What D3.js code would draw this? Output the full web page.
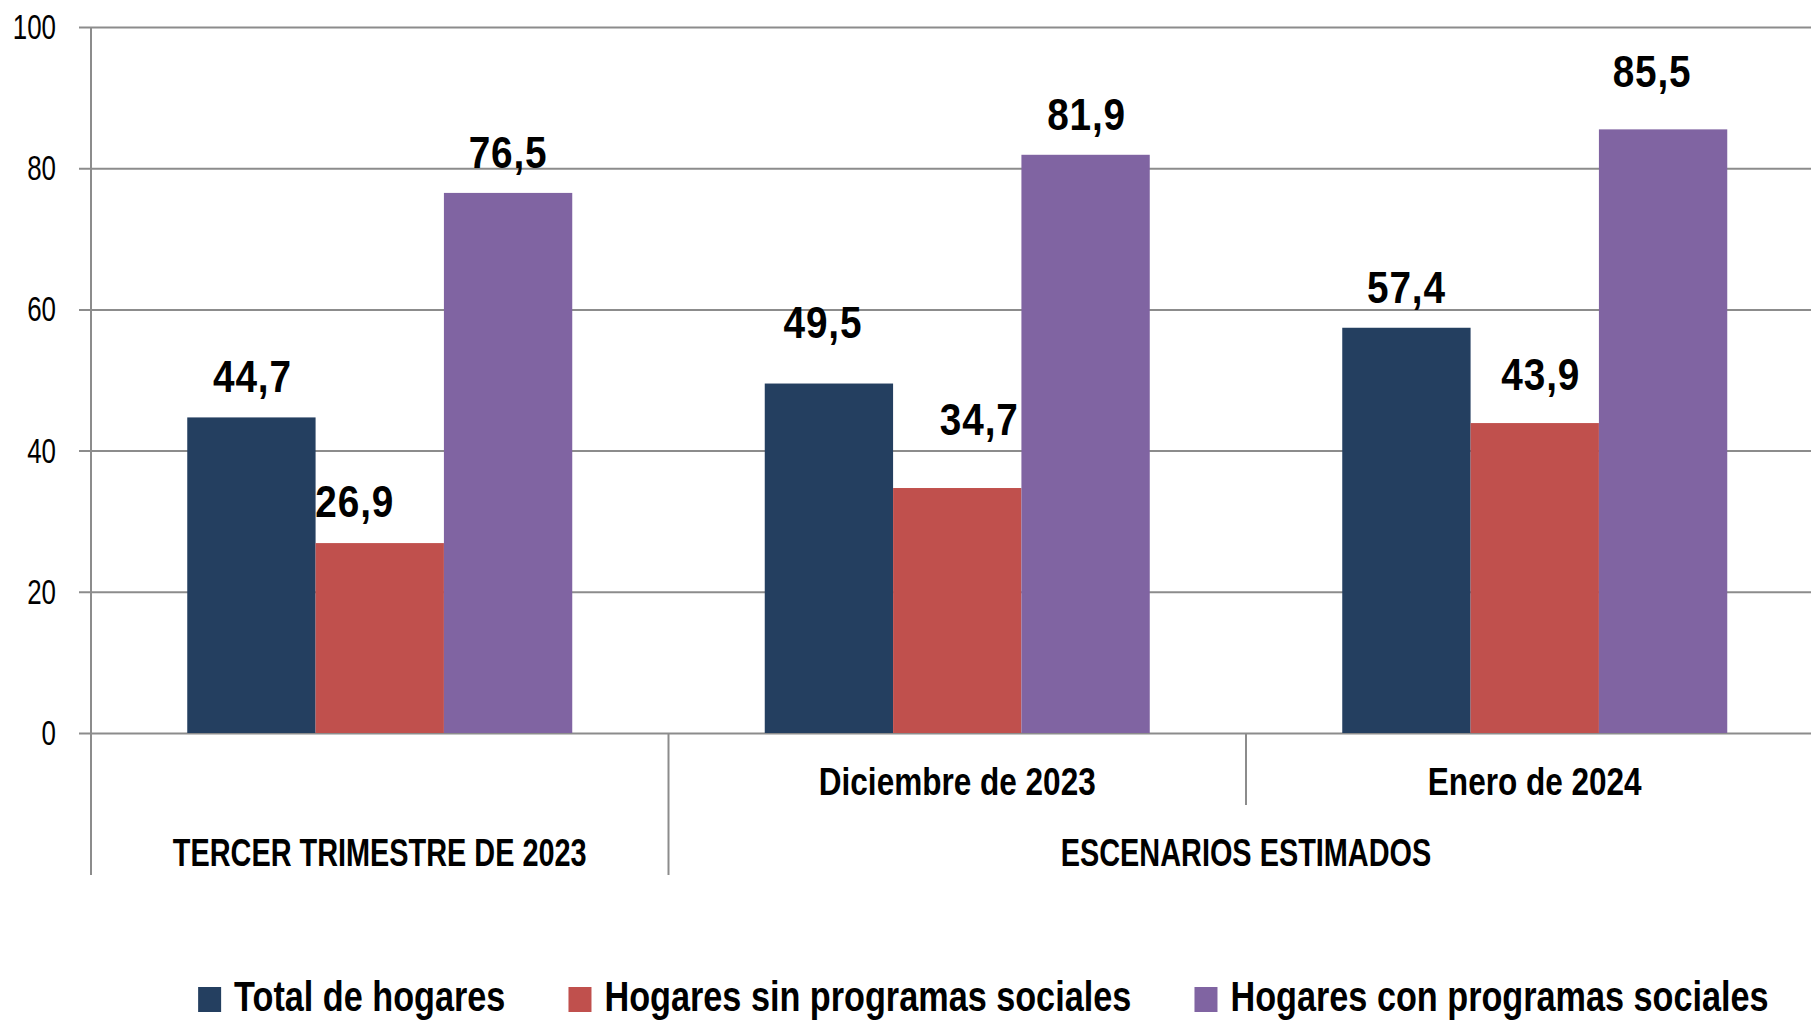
<!DOCTYPE html>
<html>
<head>
<meta charset="utf-8">
<script src="https://cdn.jsdelivr.net/npm/d3@7"></script>
<style>
  body { margin: 0; background: #fff; }
  text { font-family: "Liberation Sans", Arial, sans-serif; fill: #000; }
</style>
</head>
<body>
<script>
// data
const categories = ["TERCER TRIMESTRE DE 2023", "Diciembre de 2023", "Enero de 2024"];
const seriesNames = ["Total de hogares", "Hogares sin programas sociales", "Hogares con programas sociales"];
const totalHogares = [44.7, 49.5, 57.4];
const sinProgramas = [26.9, 34.7, 43.9];
const conProgramas = [76.5, 81.9, 85.5];
const yTicks = [0, 20, 40, 60, 80, 100];
const groupLabel = "ESCENARIOS ESTIMADOS";

const colors = ["#243f60", "#c0504d", "#8064a2"];

// label nudges (px) as the original places them
const labelDx = [[1, -6, 0], [-25, 22, 6], [0, 1, -11]];
const labelDy = [[25, 46, 25], [26, 53, 33], [25, 25, 42]];

const W = 1811, H = 1021;
const plotLeft = 91, plotTop = 27, zeroY = 733;

// no condensed font available, so squeeze text horizontally
function squeeze(sel, sx) {
  sel.attr("transform", function() {
    const x = +this.getAttribute("x") || 0;
    const y = +this.getAttribute("y") || 0;
    this.setAttribute("x", 0);
    this.setAttribute("y", 0);
    return "translate(" + x + "," + y + ") scale(" + sx + ",1)";
  });
}

const svg = d3.select("body").append("svg")
    .attr("width", W)
    .attr("height", H);

const values = [totalHogares, sinProgramas, conProgramas];
const data = categories.map((c, i) => ({
  cat: c,
  vals: seriesNames.map((s, j) => ({ s: s, j: j, i: i, v: values[j][i] }))
}));

// scales
const x0 = d3.scaleBand()
  .domain(categories)
  .range([plotLeft, plotLeft + 3 * 577.5])
  .padding(0);

const bw = x0.bandwidth();
const x1 = d3.scaleBand()
  .domain(seriesNames)
  .range([bw / 6, bw * 5 / 6])
  .padding(0);

const y = d3.scaleLinear()
  .domain([0, 100])
  .range([zeroY, plotTop]);

// gridlines + y labels
const yAxis = svg.append("g")
  .attr("transform", "translate(79,0)")
  .call(d3.axisLeft(y).tickValues(yTicks).tickSize(-(W - 79)).tickPadding(23).tickFormat(d3.format("d")));
yAxis.select(".domain").remove();
yAxis.selectAll("line").attr("stroke", "#8c8c8c").attr("stroke-width", 2);
yAxis.selectAll("text")
  .style("font-family", "'Liberation Sans', sans-serif")
  .style("font-size", "36px")
  .attr("fill", "#000")
  .call(squeeze, 0.72);

// vertical axis line
svg.append("line")
  .attr("x1", plotLeft).attr("x2", plotLeft)
  .attr("y1", plotTop).attr("y2", 875)
  .attr("stroke", "#8c8c8c").attr("stroke-width", 2);

// bars
const groups = svg.selectAll(".grp")
  .data(data)
  .enter().append("g")
    .attr("transform", d => "translate(" + x0(d.cat) + ",0)");

groups.selectAll("rect")
  .data(d => d.vals)
  .enter().append("rect")
    .attr("x", d => x1(d.s))
    .attr("y", d => y(d.v))
    .attr("width", x1.bandwidth())
    .attr("height", d => zeroY - y(d.v))
    .attr("fill", d => colors[d.j]);

// value labels
const fmt = v => d3.format(".1f")(v).replace(".", ",");
groups.selectAll(".val")
  .data(d => d.vals)
  .enter().append("text")
    .attr("x", d => x1(d.s) + x1.bandwidth() / 2 + labelDx[d.j][d.i])
    .attr("y", d => y(d.v) - labelDy[d.j][d.i])
    .attr("text-anchor", "middle")
    .style("font-size", "44px")
    .style("font-weight", "bold")
    .style("letter-spacing", "1px")
    .text(d => fmt(d.v))
    .call(squeeze, 0.88);

// category separators below the axis
const seps = categories.map((c, i) => ({ x: x0(c), y2: i === 2 ? 805 : 875 }));
svg.selectAll(".sep")
  .data(seps.slice(1))
  .enter().append("line")
    .attr("x1", d => d.x).attr("x2", d => d.x)
    .attr("y1", zeroY).attr("y2", d => d.y2)
    .attr("stroke", "#8c8c8c").attr("stroke-width", 2);

// category labels (caps run wider, squeeze them more)
svg.selectAll(".cat")
  .data(categories)
  .enter().append("text")
    .attr("x", d => x0(d) + bw / 2)
    .attr("y", (d, i) => i === 0 ? 866 : 795)
    .attr("text-anchor", "middle")
    .style("font-size", "38px")
    .style("font-weight", "bold")
    .text(d => d)
    .each(function(d, i) { d3.select(this).call(squeeze, i === 0 ? 0.76 : 0.83); });

svg.append("text")
  .attr("x", (x0(categories[1]) + x0(categories[2]) + bw) / 2)
  .attr("y", 866)
  .attr("text-anchor", "middle")
  .style("font-size", "38px")
  .style("font-weight", "bold")
  .text(groupLabel)
  .call(squeeze, 0.76);

// legend
const legSx = 0.815;
const legend = svg.append("g");
let lx = 0;
seriesNames.forEach((s, j) => {
  const item = legend.append("g").attr("transform", "translate(" + lx + ",0)");
  item.append("rect")
    .attr("x", 0).attr("y", 987)
    .attr("width", 23).attr("height", 25)
    .attr("fill", colors[j]);
  const t = item.append("text")
    .attr("x", 36).attr("y", 1011)
    .style("font-size", "42px")
    .style("font-weight", "bold")
    .text(s);
  const tw = t.node().getComputedTextLength() * legSx;
  t.call(squeeze, legSx);
  lx += 36 + tw + 63;
});
const legendW = lx - 63;
legend.attr("transform", "translate(" + (983.5 - legendW / 2) + ",0)");
</script>
</body>
</html>
